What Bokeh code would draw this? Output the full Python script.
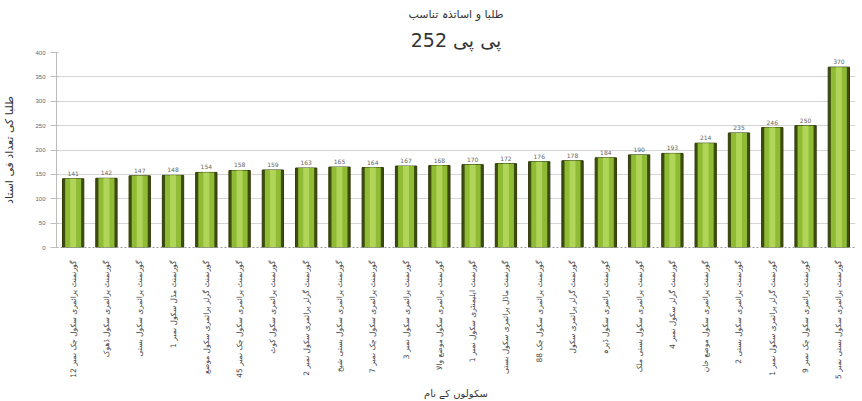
import math
from bokeh.plotting import figure
from bokeh.models import ColumnDataSource, Title, FixedTicker
from bokeh.core.properties import value
from bokeh.embed import file_html
from bokeh.resources import INLINE

title_1 = "طلبا و اساتذہ تناسب"
title_2 = "پی پی 252"
y_title = "طلبا کی تعداد فی استاد"
x_title = "سکولوں کے نام"

schools = [
    "گورنمنٹ پرائمری سکول چک نمبر 12",
    "گورنمنٹ پرائمری سکول ڈھوک",
    "گورنمنٹ پرائمری سکول بستی",
    "گورنمنٹ مڈل سکول نمبر 1",
    "گورنمنٹ گرلز پرائمری سکول موضع",
    "گورنمنٹ پرائمری سکول چک نمبر 45",
    "گورنمنٹ پرائمری سکول کوٹ",
    "گورنمنٹ گرلز پرائمری سکول نمبر 2",
    "گورنمنٹ پرائمری سکول بستی شیخ",
    "گورنمنٹ پرائمری سکول چک نمبر 7",
    "گورنمنٹ پرائمری سکول نمبر 3",
    "گورنمنٹ پرائمری سکول موضع والا",
    "گورنمنٹ ایلیمنٹری سکول نمبر 1",
    "گورنمنٹ ماڈل پرائمری سکول بستی",
    "گورنمنٹ پرائمری سکول چک 88",
    "گورنمنٹ گرلز پرائمری سکول",
    "گورنمنٹ پرائمری سکول ڈیرہ",
    "گورنمنٹ پرائمری سکول بستی ملک",
    "گورنمنٹ گرلز سکول نمبر 4",
    "گورنمنٹ پرائمری سکول موضع خان",
    "گورنمنٹ پرائمری سکول بستی 2",
    "گورنمنٹ گرلز پرائمری سکول نمبر 1",
    "گورنمنٹ پرائمری سکول چک نمبر 9",
    "گورنمنٹ پرائمری سکول بستی نمبر 5",
]
ratios = [141, 142, 147, 148, 154, 158, 159, 163, 165, 164, 167, 168,
          170, 172, 176, 178, 184, 190, 193, 214, 235, 246, 250, 370]
y_ticks = [0, 50, 100, 150, 200, 250, 300, 350, 400]

src = ColumnDataSource(dict(x=schools, y=ratios, lab=[str(v) for v in ratios]))

p = figure(width=862, height=401, x_range=schools, y_range=(0, 400),
           output_backend="svg", toolbar_location=None,
           min_border_left=30, min_border_right=7, min_border_top=4, min_border_bottom=14)

p.add_layout(Title(text=title_2, align="center", text_font="DejaVu Sans",
                   text_font_size="19px", text_font_style="normal", text_color="#333333",
                   standoff=3), "above")
p.add_layout(Title(text=title_1, align="center", text_font="DejaVu Sans",
                   text_font_size="11px", text_font_style="normal", text_color="#333333",
                   offset=0), "above")

p.vbar(x="x", top="y", width=0.64, bottom=0, source=src,
       fill_color="#3e4d0e", line_color="#2f3a0a", line_width=1)
p.vbar(x="x", top="y", width=0.48, bottom=0, source=src,
       fill_color="#8fbb35", line_color=None)
p.vbar(x="x", top="y", width=0.18, bottom=0, source=src,
       fill_color="#b8dc62", fill_alpha=0.8, line_color=None)

p.text(x="x", y="y", text="lab", source=src, text_align="center", text_baseline="bottom",
       y_offset=-3, text_font_size="6px", text_color="#666666",
       text_font=value("DejaVu Sans"))

p.background_fill_color = "white"
p.border_fill_color = "white"
p.outline_line_color = None
p.xgrid.grid_line_color = None
p.ygrid.grid_line_color = "#d4d4d4"
p.ygrid.grid_line_width = 1

p.yaxis.ticker = FixedTicker(ticks=y_ticks)
p.yaxis.axis_line_color = "#bdbdbd"
p.yaxis.major_tick_line_color = "#bdbdbd"
p.yaxis.minor_tick_line_color = None
p.yaxis.major_label_text_font_size = "6px"
p.yaxis.major_label_text_color = "#666666"
p.yaxis.axis_label = y_title
p.yaxis.axis_label_text_font = "DejaVu Sans"
p.yaxis.axis_label_text_font_size = "11px"
p.yaxis.axis_label_text_font_style = "normal"
p.yaxis.axis_label_text_color = "#333333"
p.yaxis.axis_label_standoff = 16

p.xaxis.axis_line_color = "#999999"
p.xaxis.axis_line_dash = "2 2"
p.xaxis.major_tick_line_color = None
p.xaxis.minor_tick_line_color = None
p.xaxis.major_label_orientation = math.pi / 2
p.xaxis.major_label_text_font = "DejaVu Sans"
p.xaxis.major_label_text_font_size = "7.5px"
p.xaxis.major_label_text_color = "#444444"
p.xaxis.major_label_standoff = 7
p.xaxis.axis_label = x_title
p.xaxis.axis_label_text_font = "DejaVu Sans"
p.xaxis.axis_label_text_font_size = "10px"
p.xaxis.axis_label_text_font_style = "normal"
p.xaxis.axis_label_text_color = "#333333"
p.xaxis.axis_label_standoff = 6

open("out.html", "w").write(file_html(p, INLINE))
